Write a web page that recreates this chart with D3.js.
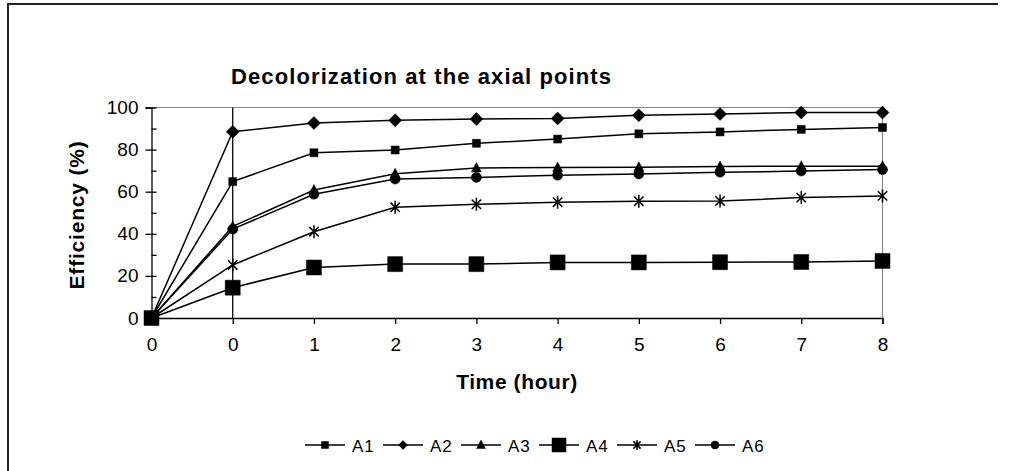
<!DOCTYPE html>
<html><head><meta charset="utf-8">
<script src="https://cdn.jsdelivr.net/npm/d3@7"></script>
<style>
html,body{margin:0;padding:0;background:#fff;}
svg{display:block;}
text{font-family:"Liberation Sans", Arial, sans-serif;fill:#000;}
</style></head>
<body><svg id="c" width="1010" height="471"></svg>
<script>
const categories = ["0","0","1","2","3","4","5","6","7","8"];
const seriesNames = ["A1","A2","A3","A4","A5","A6"];
const A1 = [0, 64.8, 78.5, 79.8, 83.0, 85.0, 87.5, 88.4, 89.6, 90.5];
const A2 = [0, 88.5, 92.6, 93.9, 94.5, 94.8, 96.3, 96.9, 97.6, 97.6];
const A3 = [0, 43.5, 60.8, 68.5, 71.3, 71.5, 71.6, 72.0, 72.1, 72.1];
const A4 = [0, 14.4, 24.0, 25.6, 25.6, 26.4, 26.4, 26.5, 26.6, 27.1];
const A5 = [0, 25.2, 41.0, 52.6, 54.0, 55.0, 55.5, 55.6, 57.2, 58.0];
const A6 = [0, 42.2, 58.8, 66.0, 66.8, 67.8, 68.4, 69.2, 69.8, 70.5];
const yTicks = [0,20,40,60,80,100];
const yMinor = [10,30,50,70,90];
const title = "Decolorization at the axial points";
const xTitle = "Time (hour)";
const yTitle = "Efficiency (%)";

const series = [A1,A2,A3,A4,A5,A6];
const markers = ["sqS","diamond","triangle","sqL","star","circle"];

const svg = d3.select("#c");
// outer frame
svg.append("line").attr("x1",8).attr("y1",4).attr("x2",998).attr("y2",4).attr("stroke","#222").attr("stroke-width",2);
svg.append("line").attr("x1",8).attr("y1",3).attr("x2",8).attr("y2",471).attr("stroke","#222").attr("stroke-width",2);

const L=151.5, R=882.5, T=107.5, B=318;
const x = d3.scalePoint().domain(d3.range(categories.length)).range([L,R]);
const y = d3.scaleLinear().domain([0,100]).range([B,T]);

// plot area border (gray top / right)
svg.append("path").attr("d",`M${L},${T}H${R}V${B}`).attr("fill","none").attr("stroke","#888").attr("stroke-width",1.2);
// vertical line at second category
svg.append("line").attr("x1",x(1)).attr("x2",x(1)).attr("y1",T).attr("y2",B).attr("stroke","#000").attr("stroke-width",1.3);

// y axis
const ya = svg.append("g").attr("transform",`translate(${L},0)`)
  .call(d3.axisLeft(y).tickValues(yTicks).tickSize(6).tickPadding(7));
ya.selectAll("text").style("font-size","19px").attr("font-family","Liberation Sans, Arial, sans-serif");
ya.selectAll("line,path").attr("stroke","#000").attr("stroke-width",1.3);
const yr = svg.append("g").attr("transform",`translate(${L},0)`)
  .call(d3.axisRight(y).tickValues(yMinor.concat(yTicks)).tickSize(5).tickFormat(""));
yr.selectAll("line,path").attr("stroke","#000").attr("stroke-width",1.3);
yr.select("path").remove();

// x axis
const xa = svg.append("g").attr("transform",`translate(0,${B})`)
  .call(d3.axisBottom(x).tickSize(6).tickPadding(14).tickFormat(i=>categories[i]));
xa.selectAll("text").style("font-size","19px").attr("font-family","Liberation Sans, Arial, sans-serif");
xa.selectAll("line,path").attr("stroke","#000").attr("stroke-width",1.3);

// titles
svg.append("text").attr("x",421).attr("y",84).attr("text-anchor","middle")
  .attr("textLength",380).attr("lengthAdjust","spacing")
  .style("font-size","22px").style("font-weight","bold").text(title);
svg.append("text").attr("x",517).attr("y",389).attr("text-anchor","middle")
  .style("font-size","21px").style("font-weight","bold").style("letter-spacing","0.6px").text(xTitle);
svg.append("text").attr("transform","translate(84,215) rotate(-90)").attr("text-anchor","middle")
  .style("font-size","21px").style("font-weight","bold").style("letter-spacing","0.8px").text(yTitle);

function markerPath(type, s){
  const p = d3.path();
  if(type==="sqS"||type==="sqL"){ const h=s/2; p.rect(-h,-h,s,s); }
  else if(type==="diamond"){ const h=s/2; p.moveTo(0,-h); p.lineTo(h,0); p.lineTo(0,h); p.lineTo(-h,0); p.closePath(); }
  else if(type==="triangle"){ const h=s/2; p.moveTo(0,-h*1.1); p.lineTo(h,h*0.8); p.lineTo(-h,h*0.8); p.closePath(); }
  else if(type==="circle"){ p.arc(0,0,s/2,0,Math.PI*2); }
  else if(type==="star"){ const h=s/2, d=h*0.72; p.moveTo(0,-h); p.lineTo(0,h); p.moveTo(-d,-d); p.lineTo(d,d); p.moveTo(-d,d); p.lineTo(d,-d); }
  return p.toString();
}
const sizes = {sqS:8, diamond:13, triangle:10, sqL:15, star:13, circle:10};
const lsizes = {sqS:7, diamond:9, triangle:9, sqL:14, star:10, circle:8};

const line = d3.line().x((d,i)=>x(i)).y(d=>y(d));
series.forEach((vals,k)=>{
  const g = svg.append("g");
  g.append("path").attr("d",line(vals)).attr("fill","none").attr("stroke","#000").attr("stroke-width",1.5);
  const m = markers[k];
  g.selectAll("path.m").data(vals).join("path").attr("class","m")
    .attr("transform",(d,i)=>`translate(${x(i)},${y(d)})`)
    .attr("d",markerPath(m,sizes[m]))
    .attr("fill", m==="star"?"none":"#000")
    .attr("stroke","#000").attr("stroke-width", m==="star"?1.5:0.5);
});

// legend
const lx0 = 305, step = 78, ly = 445;
seriesNames.forEach((n,k)=>{
  const gx = lx0 + k*step;
  const g = svg.append("g").attr("transform",`translate(${gx},${ly})`);
  g.append("line").attr("x1",0).attr("x2",40).attr("y1",0).attr("y2",0).attr("stroke","#000").attr("stroke-width",1.5);
  const m = markers[k];
  g.append("path").attr("transform","translate(20,0)").attr("d",markerPath(m,lsizes[m]))
    .attr("fill", m==="star"?"none":"#000").attr("stroke","#000").attr("stroke-width", m==="star"?1.5:0.5);
  g.append("text").attr("x",47).attr("y",6.5).style("font-size","17px").style("letter-spacing","1px").text(n);
});
</script></body></html>
